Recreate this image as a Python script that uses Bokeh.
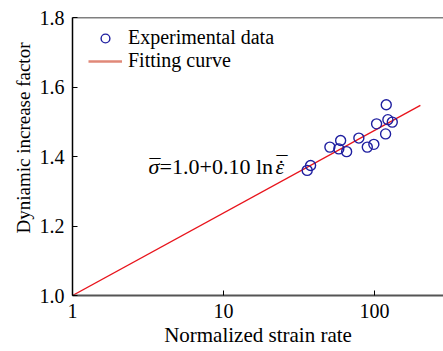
from bokeh.plotting import figure
from bokeh.models import (Range1d, FixedTicker, Label, Span, Legend, LegendItem,
                          ColumnDataSource, Title)
from bokeh.embed import file_html
from bokeh.resources import INLINE

# ---- data ----
strain_rate = [35.8, 37.7, 50.6, 59.6, 58.0, 65.3, 78.7, 89.5, 98.9, 103.1, 119.5, 122.5, 131.0, 118.3]
dif = [1.360, 1.374, 1.427, 1.446, 1.422, 1.414, 1.453, 1.427, 1.435, 1.494, 1.549, 1.506, 1.499, 1.465]
fit_rate = [1.0, 201.0]
fit_dif = [1.0, 1.547]
x_ticks = [1, 10, 100]
x_tick_labels = ["1", "10", "100"]
y_ticks = [1.0, 1.2, 1.4, 1.6, 1.8]
y_tick_labels = ["1.0", "1.2", "1.4", "1.6", "1.8"]
series_names = ["Experimental data", "Fitting curve"]
x_title = "Normalized strain rate"
y_title = "Dyniamic increase factor"
equation_parts = ["\u03c3", "=1.0+0.10 ln", "\u03b5"]
equation_pos = (3.19, 1.371)

FONT = "Liberation Serif"
NAN = float("nan")

p = figure(width=443, height=351, x_axis_type="log",
           x_range=Range1d(1, 286), y_range=Range1d(1.0, 1.8),
           output_backend="svg", toolbar_location=None,
           min_border_left=72, min_border_right=0, min_border_top=17, min_border_bottom=56)
p.outline_line_color = None
p.xgrid.visible = False
p.ygrid.visible = False
p.background_fill_color = "white"
p.border_fill_color = "white"

# top frame line
p.add_layout(Span(location=1.8, dimension="width", line_color="black", line_width=1.5))

# fit line and data
src_fit = ColumnDataSource(data=dict(x=fit_rate, y=fit_dif))
src_pts = ColumnDataSource(data=dict(x=strain_rate, y=dif))
p.line("x", "y", source=src_fit, line_color="#e8141c", line_width=1.3)
p.scatter("x", "y", source=src_pts, marker="circle", size=10, fill_color=None,
          line_color="#1f1fa0", line_width=1.4)

# legend-only renderers (no drawable point in the frame)
src_leg = ColumnDataSource(data=dict(x=[NAN], y=[NAN]))
r_leg_pts = p.scatter("x", "y", source=src_leg, marker="circle", size=7,
                      fill_color=None, line_color="#1f1fa0", line_width=1.4)
r_leg_line = p.line("x", "y", source=src_leg, line_color="#e08878", line_width=2.5)
legend = Legend(items=[LegendItem(label=series_names[0], renderers=[r_leg_pts]),
                       LegendItem(label=series_names[1], renderers=[r_leg_line])],
                location=(16, 223))
legend.border_line_color = None
legend.background_fill_alpha = 0
legend.padding = 0
legend.margin = 0
legend.spacing = 0
legend.glyph_width = 34
legend.glyph_height = 22
legend.label_height = 22
legend.label_standoff = 6
legend.label_text_font = FONT
legend.label_text_font_size = "20px"
legend.label_text_color = "black"
p.add_layout(legend, "center")

# equation
ex, ey = equation_pos
EQ_SIZE = "22px"
pieces = [
    (equation_parts[0], 0, 0, "italic"),
    ("\u00af", 1, 0, "normal"),
    (equation_parts[1], 11, 0, "normal"),
    (equation_parts[2], 127, 0, "italic"),
    ("\u02d9", 129, -1, "normal"),
    ("\u00af", 128, 3, "normal"),
]
for txt, xo, yo, st in pieces:
    p.add_layout(Label(x=ex, y=ey, text=txt, x_offset=xo, y_offset=yo, text_font=FONT,
                       text_font_size=EQ_SIZE, text_font_style=st,
                       text_baseline="alphabetic", text_color="black"))

# y axis title as a side title (allows a shift along the axis)
p.add_layout(Title(text=y_title, align="left", offset=62, standoff=5,
                   text_font=FONT, text_font_size="19px", text_font_style="normal",
                   text_color="black"), "left")

# axes
xa = p.xaxis[0]
xa.ticker = FixedTicker(ticks=x_ticks, minor_ticks=[])
xa.major_label_overrides = {t: l for t, l in zip(x_ticks, x_tick_labels)}
xa.axis_label = x_title
xa.axis_line_color = "#555555"
xa.axis_line_width = 2
xa.major_tick_in = 5
xa.major_tick_out = 0
xa.major_tick_line_color = "black"
xa.minor_tick_line_color = None
xa.major_label_standoff = 8
xa.axis_label_standoff = 2

ya = p.yaxis[0]
ya.ticker = FixedTicker(ticks=y_ticks, minor_ticks=[])
ya.major_label_overrides = {t: l for t, l in zip(y_ticks, y_tick_labels)}
ya.axis_line_color = "black"
ya.axis_line_width = 1.5
ya.major_tick_in = 5
ya.major_tick_out = 0
ya.major_tick_line_color = "black"
ya.minor_tick_line_color = None
ya.major_label_standoff = 8

for ax in (xa, ya):
    ax.major_label_text_font = FONT
    ax.major_label_text_font_size = "20px"
    ax.major_label_text_color = "black"
    ax.axis_label_text_font = FONT
    ax.axis_label_text_font_size = "21px"
    ax.axis_label_text_font_style = "normal"
    ax.axis_label_text_color = "black"

open("out.html", "w").write(file_html(p, INLINE))
